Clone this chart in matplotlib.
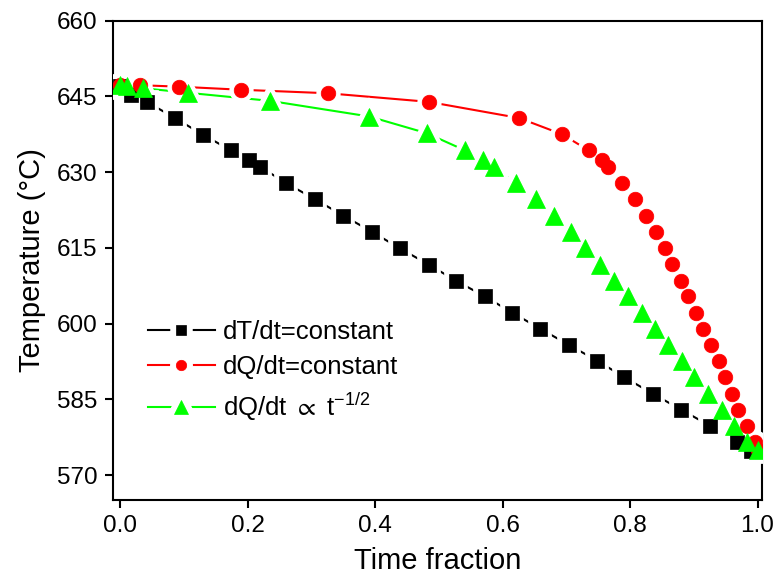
import numpy as np
import matplotlib
matplotlib.use('Agg')
import matplotlib.pyplot as plt
from matplotlib.lines import Line2D
from matplotlib.legend_handler import HandlerTuple

plt.rcParams['font.family'] = ['Liberation Sans', 'DejaVu Sans']
plt.rcParams['mathtext.fontset'] = 'custom'
plt.rcParams['mathtext.rm'] = 'Liberation Sans'
plt.rcParams['mathtext.it'] = 'Liberation Sans:italic'
plt.rcParams['mathtext.fallback'] = 'stixsans'

# 三种冷却方式下的温度-时间分数数据
t_dT = [0.0, 0.018, 0.042, 0.086, 0.130, 0.174, 0.202, 0.219, 0.261, 0.306,
        0.350, 0.395, 0.439, 0.484, 0.527, 0.572, 0.615, 0.659, 0.704, 0.748,
        0.791, 0.836, 0.880, 0.925, 0.968, 0.990]
T_dT = [647.0, 645.3, 643.9, 640.7, 637.4, 634.3, 632.3, 631.1, 627.8, 624.6,
        621.4, 618.2, 614.9, 611.7, 608.5, 605.4, 602.2, 599.0, 595.8, 592.7,
        589.4, 586.1, 583.0, 579.8, 576.5, 574.8]

t_dQ = [0.0, 0.031, 0.093, 0.189, 0.326, 0.484, 0.626, 0.693, 0.735, 0.756,
        0.766, 0.787, 0.808, 0.825, 0.840, 0.855, 0.866, 0.880, 0.891, 0.904,
        0.914, 0.927, 0.939, 0.949, 0.960, 0.970, 0.983, 0.996, 1.0]
T_dQ = [647.3, 647.2, 646.9, 646.3, 645.6, 643.9, 640.7, 637.5, 634.3, 632.3,
        631.0, 627.8, 624.6, 621.4, 618.2, 614.9, 611.8, 608.5, 605.4, 602.2,
        599.0, 595.8, 592.7, 589.4, 586.1, 583.0, 579.8, 576.5, 575.0]

t_sqrt = [0.0, 0.011, 0.036, 0.106, 0.235, 0.391, 0.481, 0.541, 0.570, 0.586,
          0.621, 0.653, 0.681, 0.707, 0.729, 0.753, 0.775, 0.797, 0.818, 0.839,
          0.860, 0.881, 0.901, 0.923, 0.944, 0.963, 0.984, 1.0]
T_sqrt = [647.2, 647.0, 646.6, 645.7, 644.1, 641.0, 637.7, 634.3, 632.3, 631.0,
          627.8, 624.6, 621.4, 618.2, 614.9, 611.7, 608.5, 605.4, 602.2, 599.0,
          595.8, 592.7, 589.4, 586.1, 583.0, 579.8, 576.5, 575.0]

labels = ['dT/dt=constant', 'dQ/dt=constant', r'dQ/dt $\propto$ t$^{-1/2}$']
x_ticks = [0.0, 0.2, 0.4, 0.6, 0.8, 1.0]
y_ticks = [570, 585, 600, 615, 630, 645, 660]

fig = plt.figure(figsize=(7.78, 5.83), dpi=100)
ax = fig.add_axes([113 / 778, 1 - 500 / 583, 649 / 778, 479.5 / 583])

styles = [
    (t_dT, T_dT, 'black', 's', 9.5, 6.5),
    (t_dQ, T_dQ, '#ff0000', 'o', 10.5, 7.5),
    (t_sqrt, T_sqrt, '#00ff00', '^', 13, 10),
]

handles = []
for x, y, color, marker, ms, ms_leg in styles:
    # 连线，标记周围留白
    ax.plot(x, y, '-', color=color, lw=1.5, zorder=2)
    ax.plot(x, y, ls='none', marker=marker, ms=ms, mfc='white', mec='white',
            mew=7, zorder=3)
    ax.plot(x, y, ls='none', marker=marker, ms=ms, mfc=color, mec=color,
            mew=0.5, zorder=4)

    h_line = Line2D([], [], color=color, lw=1.5)
    h_gap = Line2D([], [], ls='none', marker=marker, ms=ms_leg, mfc='white',
                   mec='white', mew=9)
    h_mark = Line2D([], [], ls='none', marker=marker, ms=ms_leg, mfc=color,
                    mec=color, mew=0.5)
    handles.append((h_line, h_gap, h_mark))

ax.set_xlim(-0.011, 1.007)
ax.set_ylim(565.1, 660)
ax.set_xticks(x_ticks)
ax.set_yticks(y_ticks)
ax.set_xticklabels(['%.1f' % v for v in x_ticks])

for side in ['left', 'right', 'top', 'bottom']:
    ax.spines[side].set_linewidth(1.5)
ax.tick_params(direction='out', length=6, width=1.5, labelsize=17.5, pad=5)

ax.set_xlabel('Time fraction', fontsize=21, labelpad=7)
ax.set_ylabel('Temperature (°C)', fontsize=21, labelpad=8)

ax.legend(handles, labels, handler_map={tuple: HandlerTuple(ndivide=1)},
          loc='upper left', bbox_to_anchor=(0.054, 0.376), frameon=False,
          fontsize=18.5, handlelength=2.6, handletextpad=0.3, labelspacing=0.45,
          borderpad=0, borderaxespad=0)

fig.savefig('out.png', dpi=100)
